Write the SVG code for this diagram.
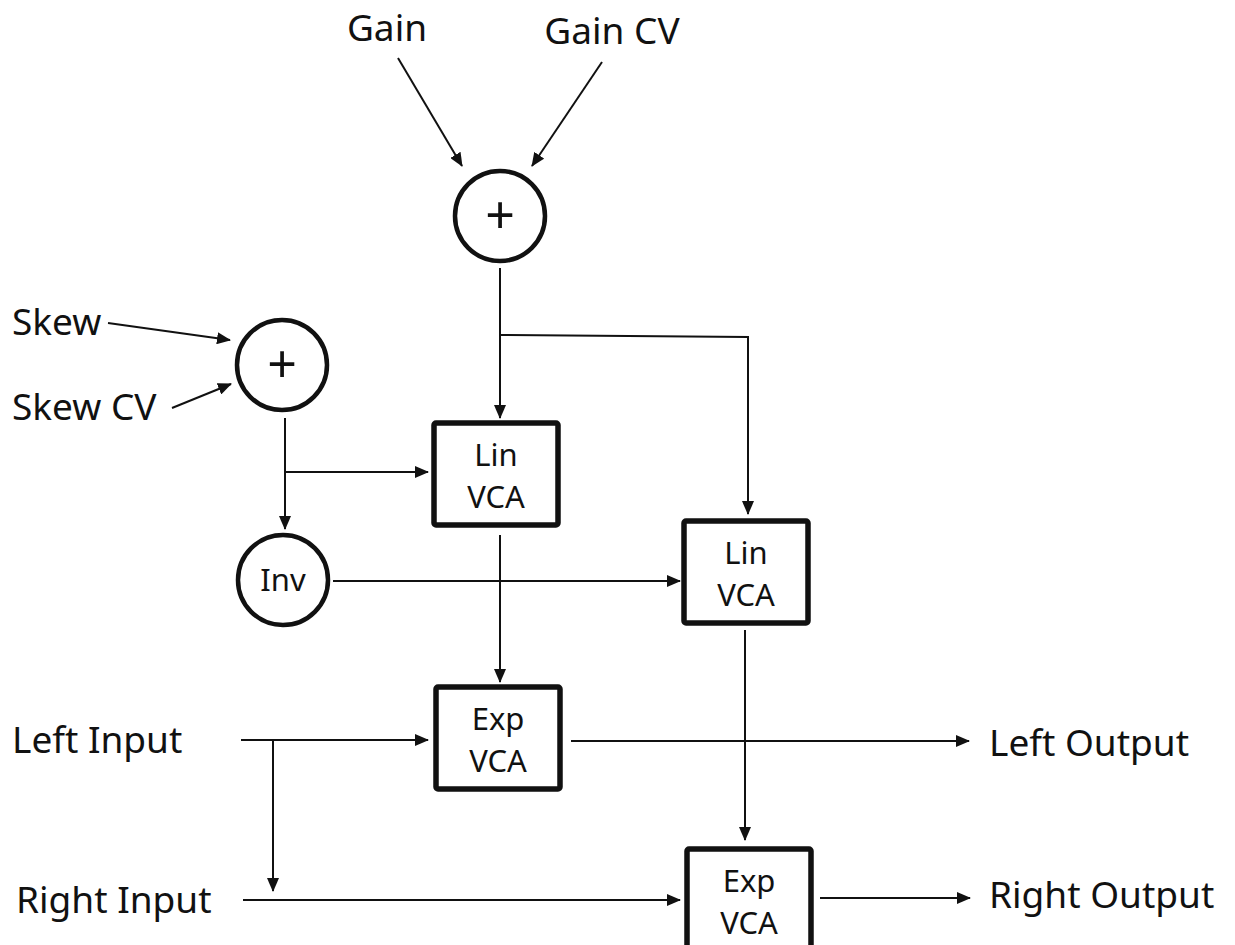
<svg xmlns="http://www.w3.org/2000/svg" width="1235" height="945" viewBox="0 0 1235 945">
<style>
text{font-family:"Noto Sans","Open Sans",sans-serif;fill:#111}
.lbl{font-size:37px}
.in{font-size:31px;text-anchor:middle}
.plus{font-size:52px;text-anchor:middle}
.node circle{fill:#fff;stroke:#111;stroke-width:4.5}
.node rect{fill:#fff;stroke:#111;stroke-width:5.5}
.conn line,.conn polyline{stroke:#111;stroke-width:2;fill:none;marker-end:url(#ah)}
</style>
<defs>
<marker id="ah" viewBox="0 0 14 12" refX="13" refY="6" markerWidth="14" markerHeight="12" markerUnits="userSpaceOnUse" orient="auto">
<path d="M0,0L14,6L0,12Z" fill="#111"/>
</marker>
</defs>
<rect width="1235" height="945" fill="#fff"/>
<g id="labels">
<text class="lbl" x="387" y="41" text-anchor="middle">Gain</text>
<text class="lbl" x="612" y="44" text-anchor="middle">Gain CV</text>
<text class="lbl" x="12" y="335">Skew</text>
<text class="lbl" x="12" y="420">Skew CV</text>
<text class="lbl" x="12" y="753">Left Input</text>
<text class="lbl" x="16" y="913">Right Input</text>
<text class="lbl" x="989" y="756">Left Output</text>
<text class="lbl" x="989" y="908">Right Output</text>
</g>
<g class="conn" id="connectors">
<line x1="398" y1="58" x2="462" y2="166"/>
<line x1="602" y1="62" x2="532" y2="166"/>
<line x1="500" y1="268" x2="500" y2="418"/>
<polyline points="500,335 748,337 748,514"/>
<line x1="108" y1="323" x2="230" y2="340"/>
<line x1="172" y1="408" x2="231" y2="384"/>
<line x1="285" y1="418" x2="285" y2="529"/>
<line x1="285" y1="472" x2="428" y2="472"/>
<line x1="333" y1="581" x2="680" y2="581"/>
<line x1="500" y1="535" x2="500" y2="682"/>
<line x1="745" y1="630" x2="745" y2="840"/>
<line x1="241" y1="740" x2="428" y2="740"/>
<line x1="273" y1="740" x2="273" y2="891"/>
<line x1="571" y1="741" x2="969" y2="741"/>
<line x1="243" y1="900" x2="680" y2="900"/>
<line x1="820" y1="898" x2="970" y2="898"/>
</g>
<g class="node" id="gain-sum">
<circle cx="500" cy="216" r="45"/>
<text class="plus" x="500" y="234">+</text>
</g>
<g class="node" id="skew-sum">
<circle cx="282" cy="365" r="45"/>
<text class="plus" x="282" y="383">+</text>
</g>
<g class="node" id="inv">
<circle cx="283" cy="580" r="45"/>
<text class="in" x="283" y="591">Inv</text>
</g>
<g class="node" id="lin-vca-1">
<rect x="434" y="423" width="124" height="102" rx="2"/>
<text class="in" x="496" y="466">Lin</text>
<text class="in" x="496" y="508">VCA</text>
</g>
<g class="node" id="lin-vca-2">
<rect x="684" y="521" width="124" height="102" rx="2"/>
<text class="in" x="746" y="564">Lin</text>
<text class="in" x="746" y="606">VCA</text>
</g>
<g class="node" id="exp-vca-1">
<rect x="436" y="687" width="124" height="102" rx="2"/>
<text class="in" x="498" y="730">Exp</text>
<text class="in" x="498" y="772">VCA</text>
</g>
<g class="node" id="exp-vca-2">
<rect x="687" y="849" width="124" height="102" rx="2"/>
<text class="in" x="749" y="892">Exp</text>
<text class="in" x="749" y="934">VCA</text>
</g>
</svg>
